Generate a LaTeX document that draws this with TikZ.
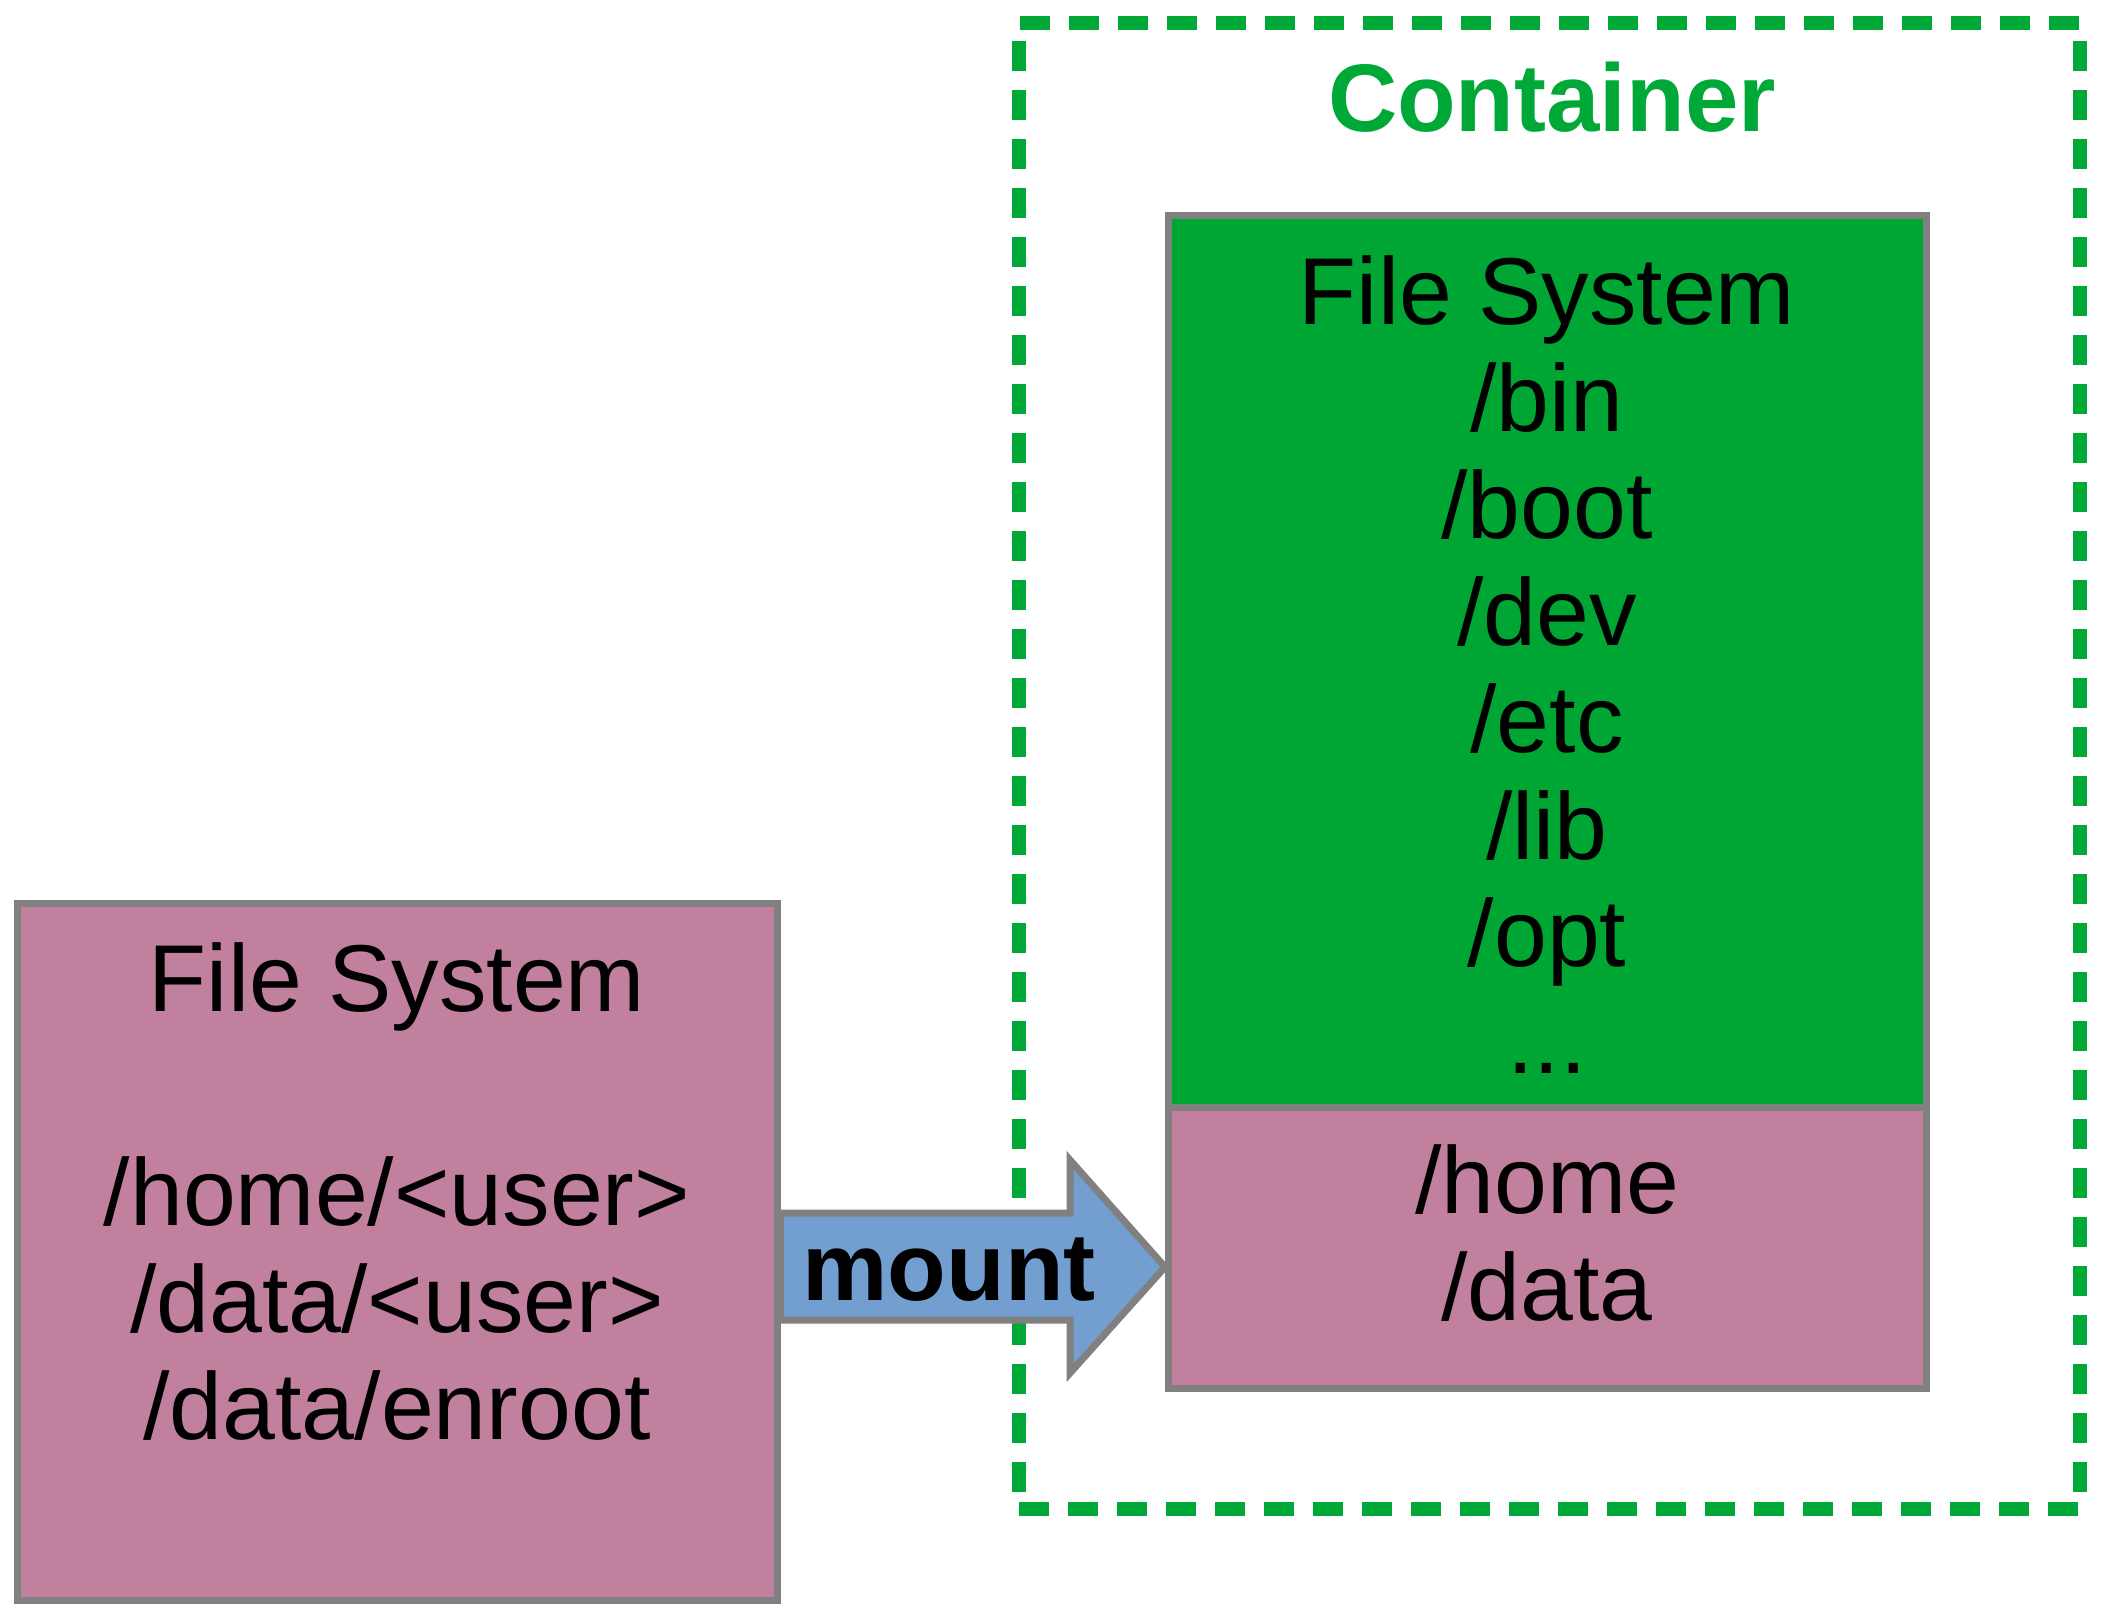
\documentclass[tikz,border=0pt]{standalone}
\usepackage{fontspec}
\setmainfont{Liberation Sans}
\definecolor{boxgreen}{RGB}{0,166,51}
\definecolor{boxpink}{RGB}{192,128,158}
\definecolor{arrowblue}{RGB}{114,159,207}
\definecolor{edgegray}{RGB}{128,128,128}
\definecolor{dashgreen}{RGB}{0,168,56}
\tikzset{
  fsbox/.style={draw=edgegray, line width=3.5pt, rectangle, inner sep=0pt},
  boundary/.style={draw=dashgreen, line width=7pt, dash pattern=on 15pt off 9.5pt, rectangle, inner sep=0pt},
  txt/.style={font=\fontsize{47.5}{53.5}\selectfont, align=center, inner sep=0pt, anchor=base},
  boldtxt/.style={font=\fontsize{48}{53.5}\selectfont\bfseries, inner sep=0pt, anchor=base},
  mountarrow/.style={fill=arrowblue, draw=edgegray, line width=3.5pt, line join=miter}
}
\begin{document}
\begin{tikzpicture}[x=0.5pt,y=-0.5pt]
  \useasboundingbox (0,0) rectangle (2104,1623);
  % container boundary
  \node[boundary, minimum width=530.5pt, minimum height=743pt] (container) at (1549.5,766) {};
  % boxes
  \node[fsbox, fill=boxpink, minimum width=380pt, minimum height=348.5pt] (hostfs) at (397,1251.5) {};
  \node[fsbox, fill=boxgreen, minimum width=379pt, minimum height=446pt] (contfs) at (1547,661) {};
  \node[fsbox, fill=boxpink, minimum width=379pt, minimum height=140.5pt] (mounted) at (1547,1247.5) {};
  % mount arrow
  \coordinate (tip) at (1165,1267);
  \draw[mountarrow] (hostfs.east |- 0,1213) -- (1070,1213) -- (1070,1160) -- (tip)
     -- (1070,1373) -- (1070,1320) -- (hostfs.east |- 0,1320) -- cycle;
  % texts (base anchor = baseline of the last line)
  \node[boldtxt, text=dashgreen] (ctitle) at (1552,131) {Container};
  \node[txt] (hosttxt) at (397,1439) {File System\\[53.5pt]/home/<user>\\/data/<user>\\/data/enroot};
  \node[txt] (conttxt) at (1547,1073) {File System\\/bin\\/boot\\/dev\\/etc\\/lib\\/opt\\...};
  \node[txt] (mnttxt) at (1547,1320) {/home\\/data};
  \node[boldtxt] (mountlbl) at (949,1300) {mount};
\end{tikzpicture}
\end{document}
